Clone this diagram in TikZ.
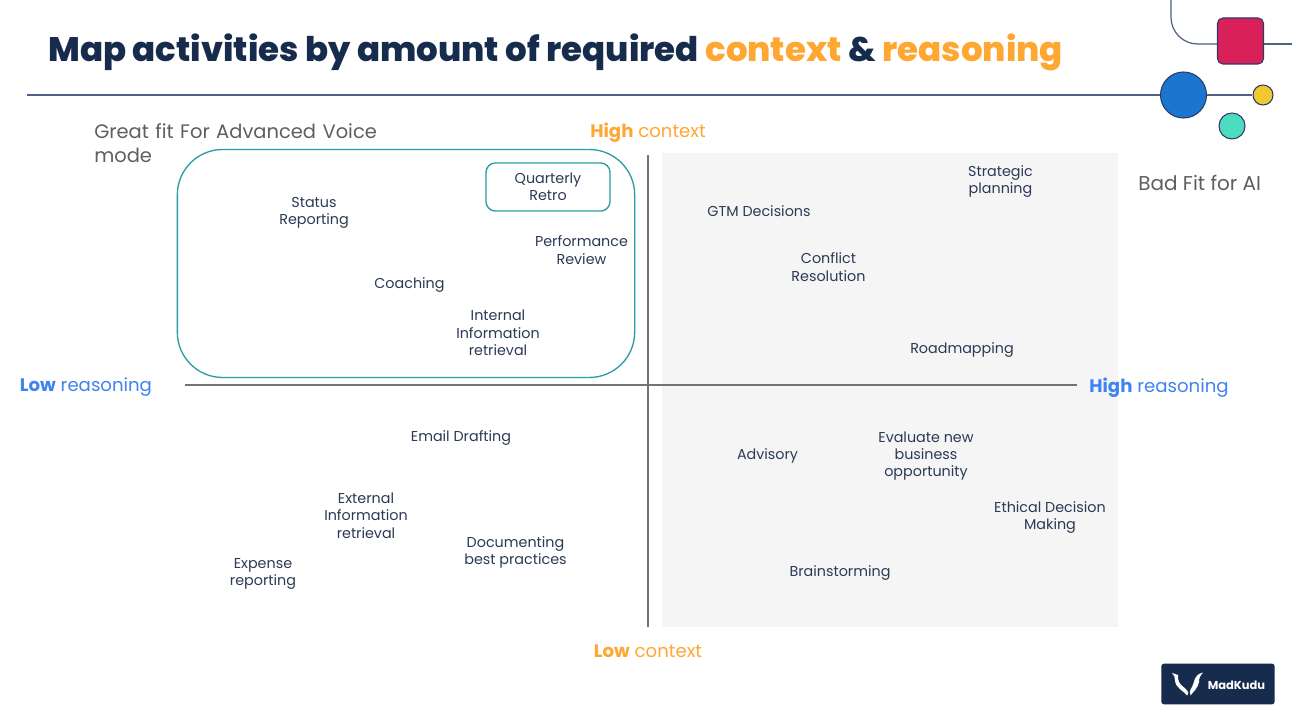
\documentclass[tikz,border=0pt]{standalone}
\usepackage{fontspec}
\setmainfont{Poppins}
\newfontfamily\ttlfont{Poppins ExtraBold}
\definecolor{navy}{HTML}{172B4D}
\definecolor{rulec}{HTML}{4F5F85}
\definecolor{ringc}{HTML}{2D3B66}
\definecolor{orng}{HTML}{FFA733}
\definecolor{blu}{HTML}{3E84F0}
\definecolor{teal2}{HTML}{2A9DA6}
\definecolor{txt}{HTML}{2B3A55}
\definecolor{grayt}{HTML}{5F5F5F}
\definecolor{bigb}{HTML}{1C75CF}
\definecolor{yelc}{HTML}{F2C830}
\definecolor{tlc}{HTML}{4DDCC0}
\definecolor{sqc}{HTML}{D92059}
\tikzset{x=0.75pt,y=-0.75pt,
 act/.style={font=\fontsize{10.75pt}{13pt}\selectfont,text=txt,align=center,inner sep=0pt},
 axl/.style={font=\fontsize{13.6pt}{17pt}\selectfont,inner sep=0pt},
 side/.style={font=\fontsize{15pt}{18pt}\selectfont,text=grayt,inner sep=0pt,align=left},
 deco/.style={draw=ringc,line width=0.8pt,inner sep=0pt}}
\begin{document}
\begin{tikzpicture}
\useasboundingbox (0,0) rectangle (1292,727);
\fill[white] (0,0) rectangle (1292,727);
\fill[black!4] (662,153) rectangle (1118,627);
\node[anchor=west,inner sep=0pt,font=\fontsize{25.5pt}{30pt}\selectfont\ttlfont,text=navy] (title) at (48,52) {Map activities by amount of required \textcolor{orng}{context} \& \textcolor{orng}{reasoning}};
\coordinate (ruleL) at (27,95);
\node[circle,deco,fill=bigb,minimum size=34.5pt] (big) at (1183.5,95) {};
\node[circle,deco,fill=yelc,minimum size=15pt] (yel) at (1263,95) {};
\node[circle,deco,fill=tlc,minimum size=19.5pt] (tl) at (1232,126) {};
\node[rounded corners=4pt,deco,fill=sqc,minimum size=34.5pt] (sq) at (1240.5,41) {};
\coordinate (cR) at (1292,44);
\coordinate (cT) at (1171,0);
\coordinate (cK) at (1171,44);
\draw[rulec,line width=0.9pt] (ruleL) -- (big);
\draw[rulec,line width=0.9pt] (big) -- (yel);
\draw[rulec,line width=0.9pt] (sq.east |- cR) -- (cR);
\draw[rulec,line width=0.9pt,rounded corners=20pt] (cT) -- (cK) -- (sq.west |- cR);
\node[side,anchor=north west,text width=217pt,font=\fontsize{14.6pt}{18pt}\selectfont] (fit) at (94,123) {Great fit For Advanced Voice mode};
\node[side,anchor=west] (bad) at (1138,183) {Bad Fit for AI};
\node[axl,text=orng] (hc) at (648,133) {\textbf{High} context};
\node[axl,text=orng] (lc) at (648,651) {\textbf{Low} context};
\node[axl,text=blu] (lr) at (86,387.5) {\textbf{Low} reasoning};
\node[axl,text=blu] (hr) at (1159,387.5) {\textbf{High} reasoning};
\coordinate (vT) at (648,155); \coordinate (vB) at (648,627);
\coordinate (hL) at (185,385); \coordinate (hR) at (1077,385);
\draw[black!55,line width=0.8pt] (vT) -- (vB);
\draw[black!55,line width=0.8pt] (hL) -- (hR);
\node[draw=teal2,rounded corners=34pt,line width=1pt,minimum width=343pt,minimum height=171pt,inner sep=0pt] (grp) at (406,263.5) {};
\node[draw=teal2,rounded corners=7pt,line width=1pt,minimum width=93pt,minimum height=36pt,inner sep=0pt,act] (qr) at (548,187) {Quarterly\\Retro};
\node[act] (a1) at (314,213) {Status\\Reporting};
\node[act] (a2) at (581.5,250) {Performance\\Review};
\node[act] (a3) at (409.5,285) {Coaching};
\node[act] (a4) at (498,333) {Internal\\Information\\retrieval};
\node[act] (a5) at (759,211) {GTM Decisions};
\node[act] (a6) at (1000.5,181.5) {Strategic\\planning};
\node[act] (a7) at (828.5,267) {Conflict\\Resolution};
\node[act] (a8) at (962,350) {Roadmapping};
\node[act] (a9) at (461,438) {Email Drafting};
\node[act] (a10) at (366,515.5) {External\\Information\\retrieval};
\node[act] (a11) at (515.5,552.5) {Documenting\\best practices};
\node[act] (a12) at (263,574) {Expense\\reporting};
\node[act] (a13) at (767.5,456) {Advisory};
\node[act] (a14) at (926,456) {Evaluate new\\business\\opportunity};
\node[act] (a15) at (1050,517.5) {Ethical Decision\\Making};
\node[act] (a16) at (840,573) {Brainstorming};
\node[fill=navy,rounded corners=2pt,minimum width=85pt,minimum height=30.5pt,inner sep=0pt] (logo) at (1218,684) {};
\node[text=white,font=\fontsize{8.6pt}{11pt}\selectfont\bfseries,inner sep=0pt] (mk) at (1236.5,685) {MadKudu};
\fill[white] (1172,673) -- (1178,675) .. controls (1178,678) and (1178,680) .. (1179,682) .. controls (1181,686) and (1186,688) .. (1188,692) .. controls (1188.5,693) and (1188,694.5) .. (1187,695.5) .. controls (1184,691) and (1175,688) .. (1175,680) .. controls (1175,677) and (1174,675) .. (1172,673) -- cycle;
\fill[white] (1203,672.5) .. controls (1200,676) and (1199,678) .. (1199,682) .. controls (1198,688) and (1193,692) .. (1190.5,695.5) .. controls (1189,693) and (1190,690) .. (1192,687) .. controls (1195,682) and (1193,675) .. (1203,672.5) -- cycle;
\end{tikzpicture}
\end{document}
